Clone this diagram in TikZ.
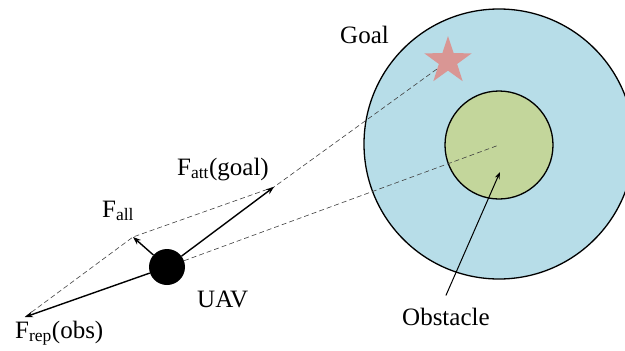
\documentclass[tikz,border=0pt]{standalone}
\usepackage{fontspec}
\setmainfont{Liberation Serif}
\usetikzlibrary{shapes.geometric,arrows.meta}
\definecolor{skyfill}{RGB}{183,221,232}
\definecolor{obsfill}{RGB}{195,214,155}
\definecolor{starfill}{RGB}{217,150,148}
\begin{document}
\begin{tikzpicture}[x=1pt,y=-1pt,
  force/.style={line width=1.4pt,-{Stealth[length=8pt,width=6pt]}},
  guide/.style={dash pattern=on 5pt off 3pt,line width=0.6pt,black!75},
  ring/.style={circle,draw,line width=1.3pt,inner sep=0pt},
  lbl/.style={font=\fontsize{25}{30}\selectfont,inner sep=0pt,anchor=base west}]
\useasboundingbox (0,0) rectangle (625,351);
\clip (0,0) rectangle (625,351);
\node[ring,fill=skyfill,minimum size=270pt] (zone) at (499,144) {};
\node[ring,fill=obsfill,minimum size=108pt] (obst) at (499,145) {};
\coordinate (obsc) at (499,145);
\node[star,star points=5,star point ratio=2.6,minimum size=50pt,fill=starfill,inner sep=0pt] (goalstar) at (448,61) {};
\node[circle,fill=black,minimum size=36pt,inner sep=0pt] (uav) at (167,267) {};
\coordinate (fatt) at (274,187);
\coordinate (frep) at (25,317);
\coordinate (fall) at (133,237);
\coordinate (obstip) at (500,172);
\draw[guide] (frep) -- (fall) -- (fatt) -- (goalstar);
\draw[guide] (uav) -- (obsc);
\draw[force] (uav) -- (fatt);
\draw[force] (uav) -- (frep);
\draw[force] (uav) -- (fall);
\node[lbl] (lgoal) at (340,43) {Goal};
\node[lbl] (lfatt) at (177,175) {F\textsubscript{att}(goal)};
\node[lbl] (lfall) at (102,217) {F\textsubscript{all}};
\node[lbl] (lfrep) at (15,338) {F\textsubscript{rep}(obs)};
\node[lbl] (luav) at (197,307) {UAV};
\node[lbl] (lobs) at (402,325) {Obstacle};
\draw[line width=1pt,-{Stealth[length=7pt,width=5pt]}] ([yshift=12pt]lobs.north) -- (obstip);
\end{tikzpicture}
\end{document}
